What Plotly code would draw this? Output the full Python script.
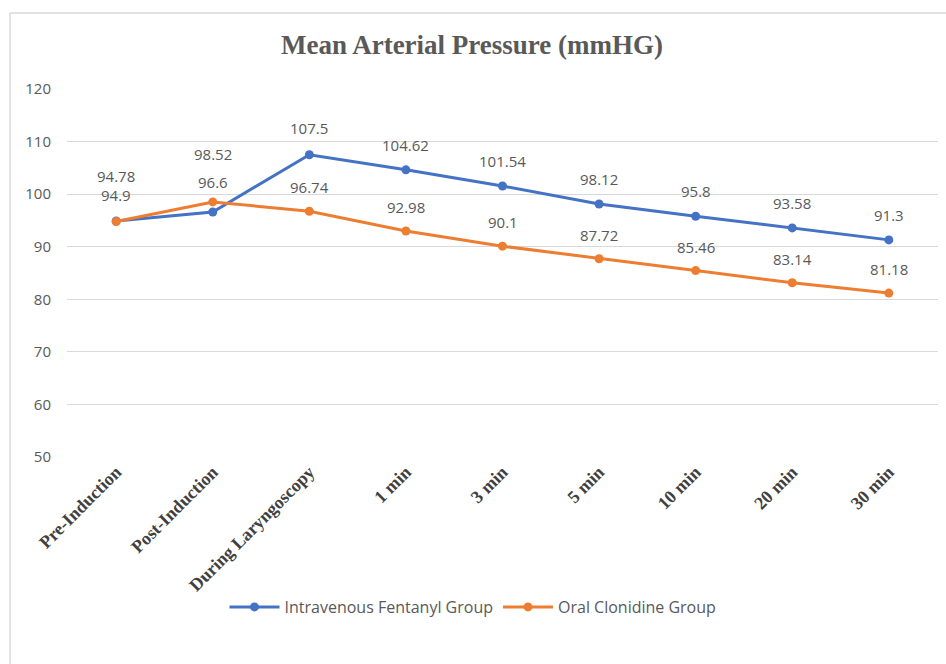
import plotly.graph_objects as go

# Measurement time points
categories = ["Pre-Induction", "Post-Induction", "During Laryngoscopy", "1 min",
              "3 min", "5 min", "10 min", "20 min", "30 min"]

# Mean arterial pressure (mmHg) per group
fentanyl = [94.9, 96.6, 107.5, 104.62, 101.54, 98.12, 95.8, 93.58, 91.3]
clonidine = [94.78, 98.52, 96.74, 92.98, 90.1, 87.72, 85.46, 83.14, 81.18]

y_ticks = [50, 60, 70, 80, 90, 100, 110, 120]

BLUE = "#4472C4"
ORANGE = "#ED7D31"
GREY_TEXT = "#595959"
SANS = "Open Sans, Liberation Sans, Arial"
SERIF = "Liberation Serif, Times New Roman, serif"

# Vertical offset (px) of each value label above its marker
fentanyl_label_shift = [26, 30, 27, 25, 25, 25, 25, 25, 25]
clonidine_label_shift = [46, 48, 24, 24, 24, 24, 24, 24, 24]

W, H = 946, 664
ML, MR, MT, MB = 67, 8, 89, 207

fig = go.Figure()
fig.add_trace(go.Scatter(
    x=categories, y=fentanyl, name="Intravenous Fentanyl Group",
    mode="lines+markers", line=dict(color=BLUE, width=3),
    marker=dict(color=BLUE, size=9),
))
fig.add_trace(go.Scatter(
    x=categories, y=clonidine, name="Oral Clonidine Group",
    mode="lines+markers", line=dict(color=ORANGE, width=3),
    marker=dict(color=ORANGE, size=9),
))

annotations = []
for series, shifts in ((fentanyl, fentanyl_label_shift), (clonidine, clonidine_label_shift)):
    for cat, val, sh in zip(categories, series, shifts):
        annotations.append(dict(
            x=cat, y=val, xref="x", yref="y", text=f"{val:g}",
            showarrow=False, yshift=sh,
            font=dict(family=SANS, size=15, color=GREY_TEXT),
        ))

# Chart frame (top and left edges)
pw = W - ML - MR
ph = H - MT - MB
def px_x(p):
    return (p - ML) / pw
def px_y(p):
    return (H - MB - p) / ph

shapes = [
    dict(type="line", xref="paper", yref="paper", x0=px_x(10), x1=px_x(946),
         y0=px_y(13), y1=px_y(13), line=dict(color="#d9d9d9", width=1.5)),
    dict(type="line", xref="paper", yref="paper", x0=px_x(10), x1=px_x(10),
         y0=px_y(13), y1=px_y(664), line=dict(color="#d9d9d9", width=1.5)),
]

fig.update_layout(
    width=W, height=H,
    margin=dict(l=ML, r=MR, t=MT, b=MB),
    paper_bgcolor="white", plot_bgcolor="white",
    title=dict(text="<b>Mean Arterial Pressure (mmHG)</b>", x=472 / W, xanchor="center",
               y=1 - 45 / H, yanchor="middle",
               font=dict(family=SERIF, size=27, color=GREY_TEXT)),
    xaxis=dict(type="category", tickangle=-45, showgrid=False, showline=False,
               ticks="", zeroline=False,
               tickfont=dict(family=SERIF, size=18, color="#404040", weight="bold")),
    yaxis=dict(range=[50, 120], tickvals=y_ticks, showgrid=True, gridcolor="#d9d9d9",
               gridwidth=1, zeroline=False, showline=False, ticks="",
               ticklabelstandoff=15,
               tickfont=dict(family=SANS, size=15, color=GREY_TEXT)),
    legend=dict(orientation="h", x=px_x(473), xanchor="center", y=px_y(607), yanchor="middle",
                font=dict(family=SANS, size=16, color=GREY_TEXT),
                itemwidth=50, traceorder="normal"),
    annotations=annotations,
    shapes=shapes,
    showlegend=True,
)

fig.write_html("out.html")
